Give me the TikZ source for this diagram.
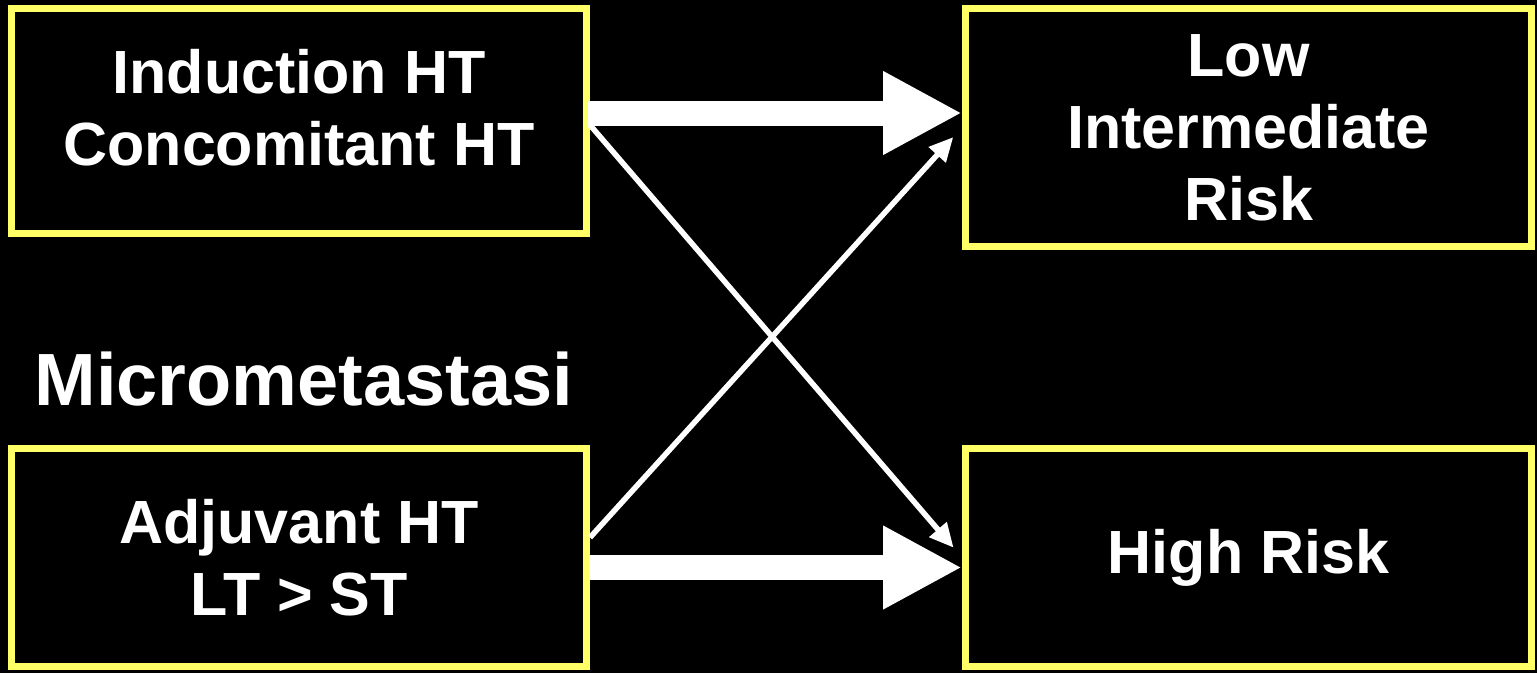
\documentclass[tikz,border=0pt]{standalone}
\usepackage{fontspec}
\setmainfont{Liberation Sans}
\usetikzlibrary{arrows.meta,positioning,calc}
\definecolor{boxyellow}{RGB}{255,255,102}

\begin{document}
\begin{tikzpicture}
    [x=1pt, y=-1pt,
    box/.style={draw=boxyellow, line width=7pt, fill=black, text=white,
        align=center, inner sep=0pt, font=\fontsize{61}{72}\selectfont\bfseries},
    box1/.style={box, minimum width=575pt, minimum height=225pt},
    box2/.style={box, minimum width=566pt, minimum height=218pt},
    fatarrow/.style={white, line width=25pt, -{Triangle[length=79pt,width=78pt]}},
    thinarrow/.style={white, line width=5.5pt, -{Triangle[length=24pt,width=22pt]}, shorten >=13pt}]
    \fill[black] (0,0) rectangle (1537,673);

    \node[box1] (ind) at (299,121)
        {\raisebox{-44pt}[0pt][0pt]{\begin{tabular}[b]{@{}c@{}}Induction HT\\Concomitant HT\end{tabular}}};
    \node[box2, minimum height=238pt] (low) at (1248.5,127.5) {Low\\Intermediate\\Risk};
    \node[box1, minimum height=218pt] (adj) at (299,557.5) {Adjuvant HT\\LT > ST};
    \node[box2] (high) at (1248.5,557.5) {High Risk};

    \node[text=white, font=\fontsize{74}{80}\selectfont\bfseries, anchor=base] (micro) at (304,405) {Micrometastasi};

    % thick arrows
    \draw[fatarrow] ([xshift=-2pt,yshift=8pt]ind.east) -- ([yshift=8pt]ind.east -| low.west);
    \draw[fatarrow] ([xshift=-1pt,yshift=-10pt]adj.east) -- ([yshift=-10pt]adj.east -| high.west);
    % crossing arrows
    \draw[thinarrow] ([yshift=-4pt]ind.east) -- (high.west);
    \draw[thinarrow] ([yshift=20pt]adj.east) -- (low.west);
%    \useasboundingbox (0,0) rectangle (1537,673);
\end{tikzpicture}
\end{document}
